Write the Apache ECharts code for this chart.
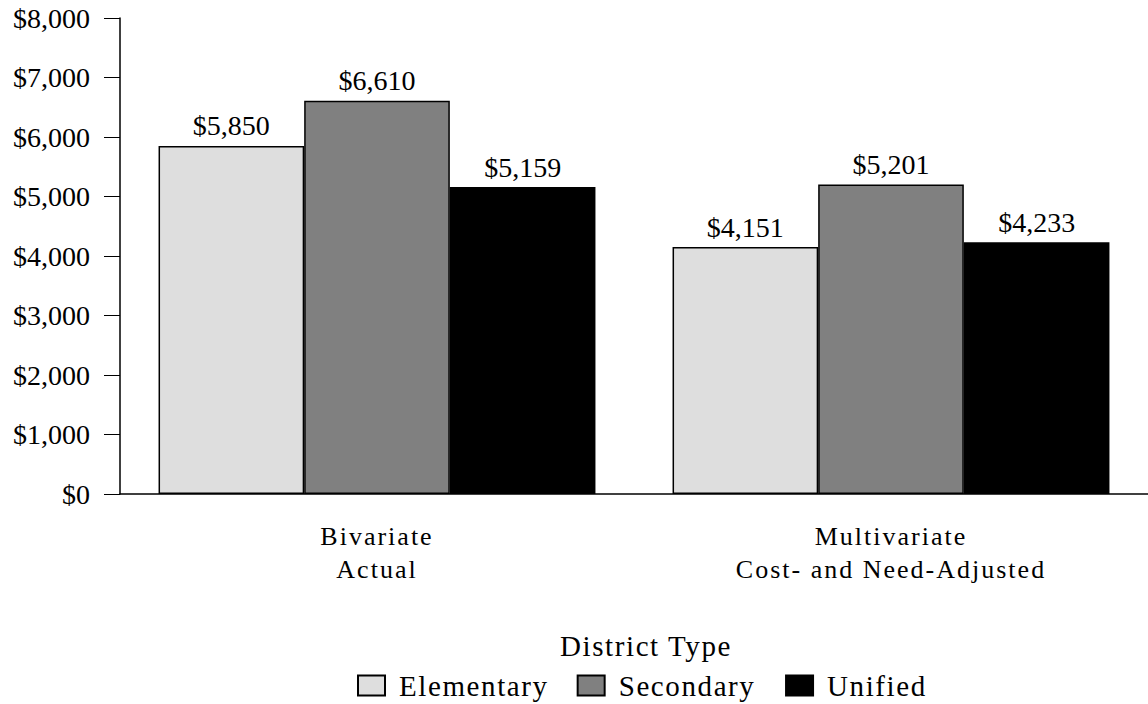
<!DOCTYPE html>
<html>
<head>
<meta charset="utf-8">
<script src="https://cdn.jsdelivr.net/npm/echarts@6/dist/echarts.min.js"></script>
<style>html,body{margin:0;padding:0;background:#fff}#c{width:1148px;height:704px}</style>
</head>
<body>
<div id="c"></div>
<script>
const categories = ['Bivariate\nActual', 'Multivariate\nCost- and Need-Adjusted'];
const seriesNames = ['Elementary', 'Secondary', 'Unified'];
const elementary = [5850, 4151];
const secondary = [6610, 5201];
const unified = [5159, 4233];
const yTicks = [0, 1000, 2000, 3000, 4000, 5000, 6000, 7000, 8000];
const legendTitle = 'District Type';

const colors = ['#dedede', '#808080', '#000000'];
const FONT = '"Liberation Serif", "Times New Roman", serif';
const fmt = v => '$' + Number(v).toLocaleString('en-US');

const chart = echarts.init(document.getElementById('c'), null, { renderer: 'svg' });
const values = [elementary, secondary, unified];
chart.setOption({
  animation: false,
  backgroundColor: '#fff',
  textStyle: { fontFamily: FONT, color: '#000' },
  title: {
    text: legendTitle,
    left: 641, top: 626,
    textAlign: 'center',
    textStyle: { fontFamily: FONT, fontSize: 29, fontWeight: 'normal', color: '#000' }
  },
  legend: {
    data: seriesNames,
    left: 352, top: 666,
    itemWidth: 27, itemHeight: 20, itemGap: 44,
    icon: 'rect',
    itemStyle: { borderColor: '#000', borderWidth: 2 },
    textStyle: { fontFamily: FONT, fontSize: 29, color: '#000', padding: [0, 0, 0, 9] }
  },
  grid: { left: 120, right: -9, top: 18, bottom: 210, containLabel: false },
  xAxis: {
    type: 'category',
    data: categories,
    boundaryGap: true,
    axisLine: { lineStyle: { color: '#000', width: 1.5 } },
    axisTick: { alignWithLabel: true, length: 14, lineStyle: { color: '#000' } },
    axisLabel: { fontFamily: FONT, fontSize: 26, color: '#000', lineHeight: 33, margin: 26 }
  },
  yAxis: {
    type: 'value',
    min: yTicks[0], max: yTicks[yTicks.length - 1], interval: 1000,
    splitLine: { show: false },
    axisLine: { show: true, lineStyle: { color: '#000', width: 1.5 } },
    axisTick: { show: true, length: 16, lineStyle: { color: '#000' } },
    axisLabel: { fontFamily: FONT, fontSize: 28, color: '#000', margin: 30, formatter: fmt }
  },
  series: seriesNames.map((name, i) => ({
    name,
    type: 'bar',
    data: values[i],
    barGap: '0%',
    barCategoryGap: '15%',
    itemStyle: { color: colors[i], borderColor: '#000', borderWidth: 1.5 },
    label: {
      show: true, position: 'top', distance: 6,
      fontFamily: FONT, fontSize: 28, color: '#000',
      formatter: p => fmt(p.value)
    }
  }))
});

// letter-spacing like the reference for category labels, legend and its title
const catLines = new Set(categories.join('\n').split('\n'));
function spaceText() {
  document.querySelectorAll('#c svg text').forEach(t => {
    const s = (t.textContent || '').trim();
    if (!s || s.startsWith('$')) return;
    t.style.letterSpacing = catLines.has(s) ? '2px' : '1.6px';
    t.querySelectorAll('tspan').forEach(sp => { sp.style.letterSpacing = t.style.letterSpacing; });
  });
}
spaceText();
chart.on('finished', spaceText);
setTimeout(spaceText, 50);
setTimeout(spaceText, 300);
</script>
</body>
</html>
